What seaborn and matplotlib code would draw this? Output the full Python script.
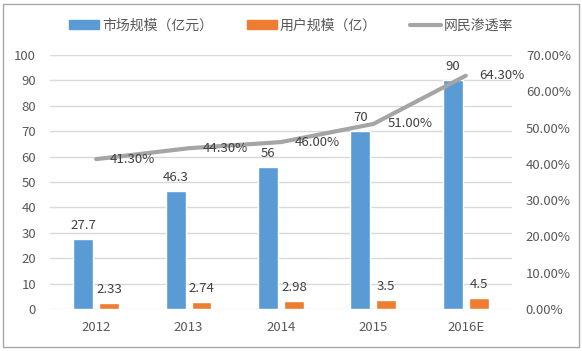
import numpy as np
import pandas as pd
import seaborn as sns
import matplotlib.pyplot as plt
from matplotlib.lines import Line2D
from matplotlib.patches import Patch, Rectangle

# 데이터
years = ['2012', '2013', '2014', '2015', '2016E']
market = [27.7, 46.3, 56, 70, 90]          # 市场规模（亿元）
users = [2.33, 2.74, 2.98, 3.5, 4.5]       # 用户规模（亿）
rate = [41.3, 44.3, 46.0, 51.0, 64.3]      # 网民渗透率 (%)

sns.set_style('white')
plt.rcParams['font.family'] = ['Noto Sans CJK SC', 'DejaVu Sans']

blue, orange, gray = '#5B9BD5', '#ED7D31', '#A5A5A5'
txt = '#595959'

df = pd.DataFrame({
    'year': years * 2,
    'value': market + users,
    'kind': ['市场规模（亿元）'] * 5 + ['用户规模（亿）'] * 5,
})

fig = plt.figure(figsize=(5.82, 3.51), dpi=100)
ax = fig.add_axes([0.0859, 0.1197, 0.7938, 0.7236])

sns.barplot(data=df, x='year', y='value', hue='kind', palette=[blue, orange],
            width=0.56, gap=0.23, ax=ax, legend=False, saturation=1)
for c in ax.containers:
    ax.bar_label(c, labels=[f'{v:g}' for v in c.datavalues], padding=5,
                 fontsize=9.5, color='#404040')

ax.set_ylim(0, 100)
ax.set_yticks(np.arange(0, 101, 10))
ax.set_xlim(-0.5, 4.5)
ax.yaxis.grid(True, color='#D9D9D9', linewidth=1)
ax.set_axisbelow(True)
ax.set_xlabel('')
ax.set_ylabel('')
ax.tick_params(axis='both', length=0, labelsize=9.5, labelcolor=txt)
ax.tick_params(axis='x', pad=9)
ax.tick_params(axis='y', pad=10)
for s in ax.spines.values():
    s.set_visible(False)

ax2 = ax.twinx()
sns.lineplot(x=np.arange(len(years)), y=rate, color=gray, linewidth=3,
             ax=ax2, solid_capstyle='round')
ax2.set_ylim(0, 70)
ax2.set_yticks(np.arange(0, 71, 10))
ax2.set_yticklabels([f'{v:.2f}%' for v in np.arange(0, 71, 10)])
ax2.tick_params(axis='y', length=0, labelsize=9.5, labelcolor=txt, pad=10)
for s in ax2.spines.values():
    s.set_visible(False)
for i, r in enumerate(rate):
    ax2.annotate(f'{r:.2f}%', (i, r), xytext=(10, 0), textcoords='offset points',
                 ha='left', va='center', fontsize=9.5, color='#404040')

handles = [Patch(facecolor=blue, edgecolor=blue),
           Patch(facecolor=orange, edgecolor=orange),
           Line2D([0], [0], color=gray, linewidth=3)]
fig.legend(handles, ['市场规模（亿元）', '用户规模（亿）', '网民渗透率'],
           loc='center', bbox_to_anchor=(0.5, 0.928), ncol=3, frameon=False,
           fontsize=10, labelcolor=txt, handlelength=2.2, handleheight=0.55,
           handletextpad=0.2, columnspacing=2.4)

fig.patches.append(Rectangle((0.006, 0.012), 0.988, 0.978, transform=fig.transFigure,
                             fill=False, edgecolor='#A6A6A6', linewidth=1))

fig.savefig('out.png', dpi=100)
